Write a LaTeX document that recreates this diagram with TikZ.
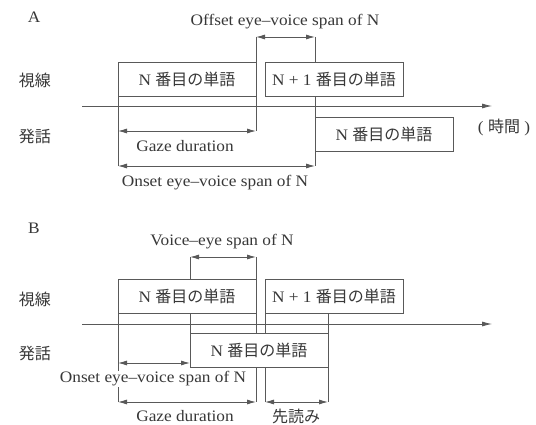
\documentclass[tikz,border=0pt]{standalone}
\usepackage{fontspec}
\setmainfont{Liberation Serif}[FakeStretch=1.08]
\newfontfamily\jp{Noto Sans CJK JP}
\usetikzlibrary{arrows.meta}
\definecolor{linegray}{gray}{0.35}
\definecolor{txtgray}{gray}{0.22}
\begin{document}
\begin{tikzpicture}[x=1pt,y=-1pt,
  font=\fontsize{16}{19}\selectfont, text=txtgray,
  wbox/.style={draw=linegray, fill=white, line width=0.8pt, minimum width=138pt, minimum height=34pt, inner sep=0pt},
  lbl/.style={inner sep=1pt, fill=white},
  guide/.style={draw=linegray, line width=0.7pt},
  span/.style={draw=linegray, line width=0.8pt, {Latex[length=9pt,width=5pt]}-{Latex[length=9pt,width=5pt]}},
  axis/.style={draw=linegray, line width=0.8pt, -{Latex[length=10pt,width=5pt]}}]
\path[use as bounding box] (0,0) rectangle (536,425);
% ---------------- Panel A ----------------
\node[lbl] (A) at (34,17) {A};
\node[lbl] (offA) at (285,22) {Offset eye–voice span of N};
\node[lbl] (eyeA) at (35,80) {\jp 視線};
\node[lbl] (spA) at (35,136) {\jp 発話};
\node[lbl, inner sep=0pt] (timeA) at (504,127) {( {\jp 時間} )};
\coordinate (tA0) at (82,106);
\coordinate (tA1) at (492,106);
\coordinate (oA1) at (256,37);
\coordinate (oA2) at (315,37);
\coordinate (gA1) at (118,131);
\coordinate (gA2) at (256,131);
\coordinate (nA1) at (118,166);
\coordinate (nA2) at (315,166);
\coordinate (vA0) at (118,96);
\draw[axis] (tA0) -- (tA1);
\draw[guide] (oA1) -- (gA2);
\draw[guide] (oA2) -- (nA2);
\draw[guide] (vA0) -- (nA1);
\node[wbox] (gA) at (187,79) {N {\jp 番目の単語}};
\node[wbox] (nA) at (334,79) {N + 1 {\jp 番目の単語}};
\node[wbox] (sA) at (384,134) {N {\jp 番目の単語}};
\draw[span] (oA1) -- (oA2);
\draw[span] (gA1) -- (gA2);
\draw[span] (nA1) -- (nA2);
\node[lbl] (gdA) at (185,146) {Gaze duration};
\node[lbl] (onA) at (215,183) {Onset eye–voice span of N};
% ---------------- Panel B ----------------
\node[lbl] (B) at (34,228) {B};
\node[lbl] (veB) at (222,242) {Voice–eye span of N};
\node[lbl] (eyeB) at (35,299) {\jp 視線};
\node[lbl] (spB) at (35,353) {\jp 発話};
\coordinate (tB0) at (82,324);
\coordinate (tB1) at (492,324);
\coordinate (vB1) at (190,257);
\coordinate (vB2) at (256,257);
\coordinate (vB1b) at (190,333);
\coordinate (oB1) at (118,363);
\coordinate (oB2) at (190,363);
\coordinate (gB1) at (118,402);
\coordinate (gB2) at (256,402);
\coordinate (pB1) at (265,402);
\coordinate (pB2) at (328,402);
\coordinate (gB0) at (118,313);
\coordinate (pB1t) at (265,313);
\coordinate (pB2t) at (328,313);
\draw[axis] (tB0) -- (tB1);
\draw[guide] (vB1) -- (vB1b);
\draw[guide] (vB2) -- (gB2);
\draw[guide] (gB0) -- (gB1);
\draw[guide] (pB1t) -- (pB1);
\draw[guide] (pB2t) -- (pB2);
\node[wbox] (gB) at (187,296) {N {\jp 番目の単語}};
\node[wbox] (nB) at (334,296) {N + 1 {\jp 番目の単語}};
\node[wbox] (sB) at (259,350) {N {\jp 番目の単語}};
\draw[span] (vB1) -- (vB2);
\draw[span] (oB1) -- (oB2);
\draw[span] (gB1) -- (gB2);
\draw[span] (pB1) -- (pB2);
\node[lbl] (onB) at (153,379) {Onset eye–voice span of N};
\node[lbl] (gdB) at (185,416) {Gaze duration};
\node[lbl] (prB) at (296,416) {\jp 先読み};
\end{tikzpicture}
\end{document}
